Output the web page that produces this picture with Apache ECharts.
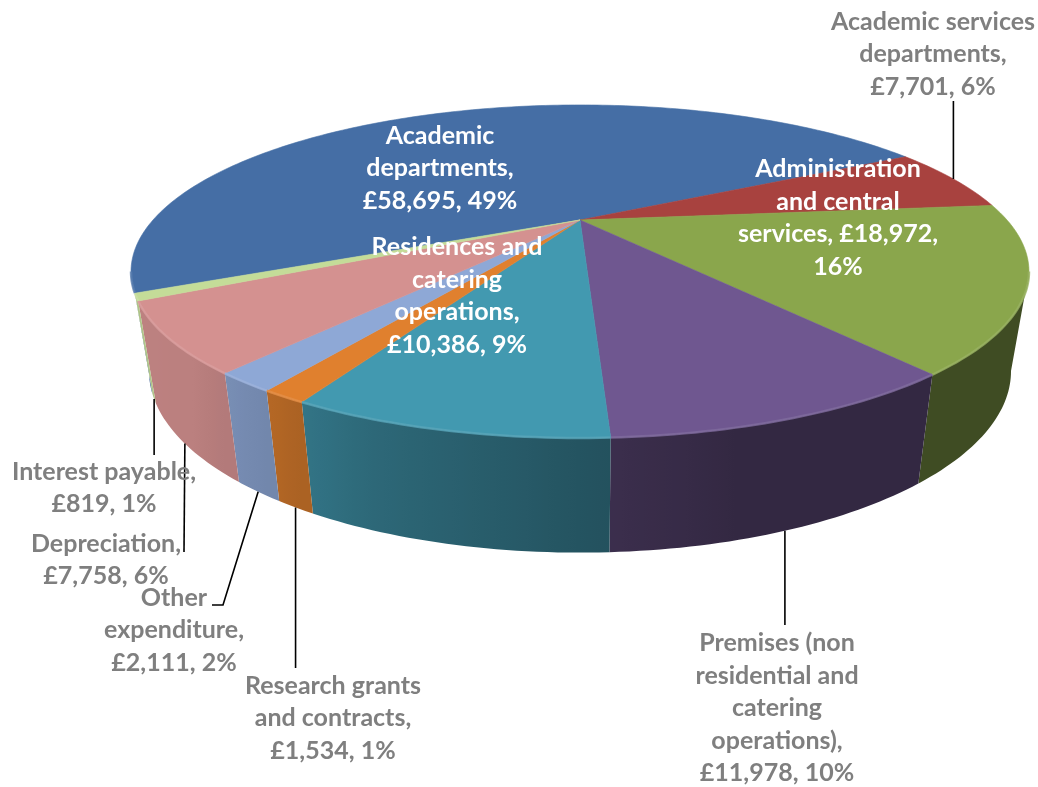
<!DOCTYPE html>
<html>
<head>
<meta charset="utf-8">
<script src="https://cdn.jsdelivr.net/npm/echarts@6/dist/echarts.min.js"></script>
<style>
  html, body { margin: 0; background: #fff; }
  #main { width: 1038px; height: 787px; }
</style>
</head>
<body>
<div id="main"></div>
<script>
// expenditure (£000)
var categories = ['Academic departments', 'Academic services departments', 'Administration and central services',
  'Premises (non residential and catering operations)', 'Residences and catering operations',
  'Research grants and contracts', 'Other expenditure', 'Depreciation', 'Interest payable'];
var values = [58695, 7701, 18972, 11978, 10386, 1534, 2111, 7758, 819];
// how many words of each label go on each line
var lineWords = [[1, 1, 2], [2, 1, 2], [1, 2, 2, 1], [2, 2, 1, 1, 2], [2, 1, 1, 2], [2, 2, 2], [1, 1, 2], [1, 2], [2, 2]];

var colors = ['#456ea5', '#a8423f', '#8aa64c', '#6f5790', '#4299b0', '#e0802e', '#8ea8d6', '#d49190', '#c4dc98'];

// label placement (block centre) and leader line end points, null x = straight down/up
var labelLayout = [
  { x: 440, y: 168, inside: true },
  { x: 933, y: 54, leader: [[null, 101]], onTop: true },
  { x: 838, y: 218, inside: true },
  { x: 777, y: 708, leader: [[null, 625]] },
  { x: 457, y: 296, inside: true },
  { x: 333, y: 718, leader: [[null, 668]] },
  { x: 174, y: 630, leader: [[223, 605], [212, 605]] },
  { x: 106, y: 560, leader: [[184, 552]] },
  { x: 104, y: 488, leader: [[null, 455]] }
];

// 3d pie geometry
var CX = 580, CY = 220, R = 427, RY = 150.6, P = 0.309;
var DEP_A = 51, DEP_B = 44, SHRINK = 0.96;
var firstSliceAngle = 245;
var SIL_L = 108, SIL_R = 252;   // visible wall range

var total = values.reduce(function (a, b) { return a + b; }, 0);
var starts = [];
(function () {
  var acc = firstSliceAngle;
  values.forEach(function (v) { starts.push(acc); acc += v / total * 360; });
})();

function proj(deg, bottom) {
  var a = deg * Math.PI / 180, u = Math.sin(a), v = -Math.cos(a), w = 1 - P * v;
  var x = CX + R * u / w, y = CY + RY * v / w;
  if (bottom) { x = CX + (x - CX) * SHRINK; y += DEP_A + DEP_B / w; }
  return [x, y];
}
function norm(d) { d = d % 360; return d < 0 ? d + 360 : d; }

var shadePts = [[108, 0.46], [165, 0.46], [180, 0.55], [200, 0.68], [212, 0.8], [225, 0.88], [252, 0.9]];
function shade(deg) {
  for (var i = 1; i < shadePts.length; i++) {
    if (deg <= shadePts[i][0]) {
      var a = shadePts[i - 1], b = shadePts[i], t = (deg - a[0]) / (b[0] - a[0]);
      return a[1] + (b[1] - a[1]) * Math.max(0, Math.min(1, t));
    }
  }
  return 0.9;
}
function mul(hex, f) {
  var n = parseInt(hex.slice(1), 16);
  var c = [(n >> 16) & 255, (n >> 8) & 255, n & 255].map(function (x) {
    return f <= 1 ? Math.round(x * f) : Math.round(x + (255 - x) * (f - 1));
  });
  return 'rgb(' + c.join(',') + ')';
}

function labelText(i, value) {
  var pct = Math.round(value / total * 100);
  var words = (categories[i] + ', £' + value.toLocaleString('en-GB') + ', ' + pct + '%').split(' ');
  var lines = [], k = 0;
  lineWords[i].forEach(function (n) { lines.push(words.slice(k, k + n).join(' ')); k += n; });
  return lines.join('\n');
}

function renderItem(params, api) {
  var i = params.dataIndex;
  var value = api.value(1);
  var a0 = starts[i], a1 = a0 + value / total * 360;
  var color = colors[i];
  var children = [];

  // walls (front part only), one shape per slice with a horizontal gradient
  for (var off = -360; off <= 360; off += 360) {
    var lo = Math.max(a0 + off, SIL_L), hi = Math.min(a1 + off, SIL_R);
    if (hi <= lo) continue;
    var top = [], bot = [], angs = [];
    for (var t = lo; t < hi; t += 1) angs.push(t);
    angs.push(hi);
    angs.forEach(function (d) { top.push(proj(d)); bot.push(proj(d, true)); });
    var xs = top.concat(bot).map(function (p) { return p[0]; });
    var xmin = Math.min.apply(null, xs), xmax = Math.max.apply(null, xs);
    var stops = [];
    angs.forEach(function (d) {
      var p = proj(d);
      var o = xmax > xmin ? (p[0] - xmin) / (xmax - xmin) : 0;
      stops.push({ offset: Math.max(0, Math.min(1, o)), color: mul(color, shade(d)) });
    });
    stops.sort(function (m, n) { return m.offset - n.offset; });
    var grad = { type: 'linear', x: xmin, y: 0, x2: xmax, y2: 0, global: true, colorStops: stops };
    children.push({
      type: 'polygon', z2: 10,
      shape: { points: top.concat(bot.reverse()) },
      style: { fill: grad }
    });
    // light bevel along the front rim
    children.push({
      type: 'polyline', z2: 150,
      shape: { points: top },
      style: { stroke: mul(color, 1.12), lineWidth: 2.5, fill: null, opacity: 0.8 }
    });
  }

  // top face
  var pts = [[CX, CY]];
  for (var d = a0; d < a1; d += 1) pts.push(proj(d));
  pts.push(proj(a1));
  children.push({
    type: 'polygon', z2: 100,
    shape: { points: pts },
    style: { fill: color, stroke: color, lineWidth: 0.6 }
  });

  // label
  var lay = labelLayout[i];
  children.push({
    type: 'text', z2: 300,
    style: {
      text: labelText(i, value), x: lay.x, y: lay.y,
      align: 'center', verticalAlign: 'middle',
      fill: lay.inside ? '#ffffff' : '#7f7f7f',
      fontFamily: 'Lato', fontWeight: 'bold', fontSize: 25, lineHeight: 32.5
    }
  });

  if (lay.leader) {
    var mid = norm((a0 + a1) / 2);
    var s = proj(mid, !lay.onTop);
    var line = [s];
    lay.leader.forEach(function (p) { line.push([p[0] == null ? s[0] : p[0], p[1]]); });
    children.push({
      type: 'polyline', z2: 200,
      shape: { points: line },
      style: { stroke: '#000', lineWidth: 1.6, fill: null }
    });
  }

  return { type: 'group', children: children };
}

var myChart = echarts.init(document.getElementById('main'));
myChart.setOption({
  animation: false,
  series: [{
    type: 'custom',
    coordinateSystem: 'none',
    silent: true,
    renderItem: renderItem,
    data: values.map(function (v, i) { return [i, v]; })
  }]
});
window.addEventListener('resize', function () { myChart.resize(); });
</script>
</body>
</html>
